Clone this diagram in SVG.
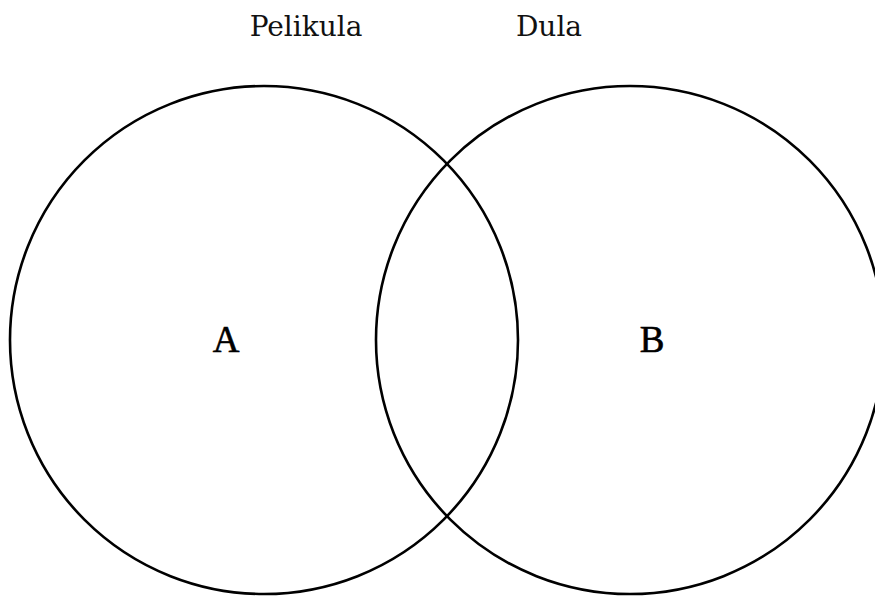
<svg xmlns="http://www.w3.org/2000/svg" width="875" height="597" viewBox="0 0 875 597">
<style>
.c{fill:none;stroke:#000;stroke-width:2.6}
.t{font-family:"DejaVu Serif",serif;font-size:28px;fill:#111;text-anchor:middle}
.l{font-family:"Liberation Serif",serif;font-size:37px;fill:#000;stroke:#000;stroke-width:0.6;text-anchor:middle}
</style>
<rect width="875" height="597" fill="#fff"/>
<g id="setA">
<circle class="c" cx="264" cy="340" r="254"/>
<text class="l" x="226" y="352">A</text>
</g>
<g id="setB">
<circle class="c" cx="630" cy="340" r="254"/>
<text class="l" x="652" y="352">B</text>
</g>
<g id="titles">
<text class="t" x="306" y="36">Pelikula</text>
<text class="t" x="549" y="36">Dula</text>
</g>
</svg>
